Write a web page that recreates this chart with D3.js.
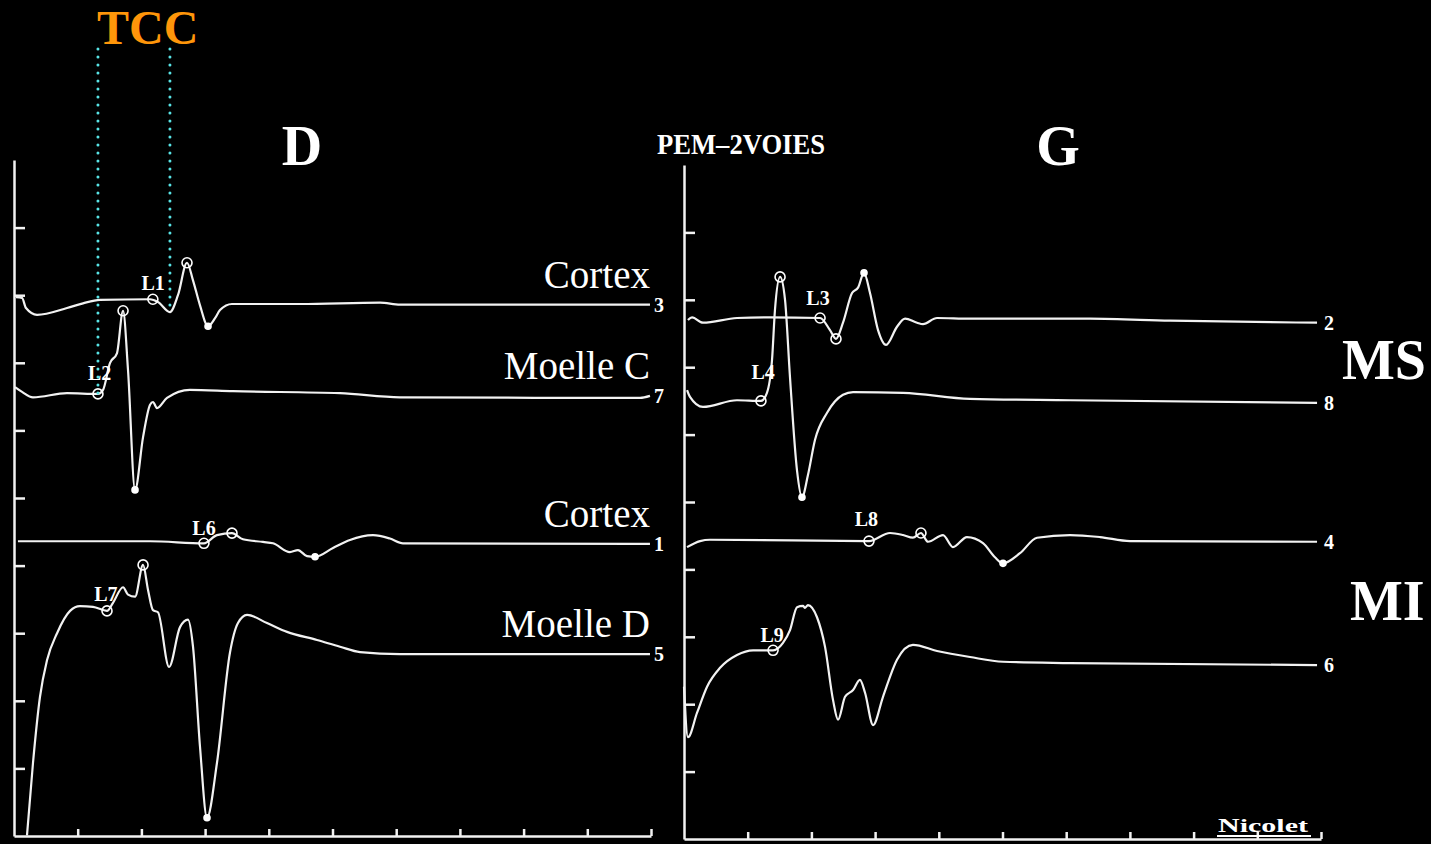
<!DOCTYPE html>
<html lang="fr">
<head>
<meta charset="utf-8">
<title>PEM - 2 voies</title>
<script src="https://cdn.jsdelivr.net/npm/d3@7"></script>
<style>
  body { margin: 0; background: #000; }
  svg { display: block; }
  .trace { fill: none; stroke: #f2f2f2; stroke-width: 2.2; stroke-linejoin: round; }
  .axis path, .axis line { stroke: #f2f2f2; stroke-width: 2.5; }
  .axis text { display: none; }
  .big { font-family: "Liberation Serif", "Times New Roman", serif; font-weight: bold; fill: #fff; }
  .site { font-family: "Liberation Serif", "Times New Roman", serif; fill: #fff; font-size: 39px; }
  .lat { font-family: "Liberation Serif", serif; font-weight: bold; fill: #fff; font-size: 20px; }
  .num { font-family: "Liberation Serif", serif; font-weight: bold; fill: #fff; font-size: 20px; }
</style>
</head>
<body>
<script>
// time in ms, amplitude in screen divisions (0 = bottom axis, 10 = top)
const timeTicks = [5, 10, 15, 20, 25, 30, 35, 40, 45, 50];
const divTicks = [1, 2, 3, 4, 5, 6, 7, 8, 9];

// ---- left side (D) ----
const ch3 = [[0.16,7.97],[0.63,7.96],[0.94,7.81],[1.81,7.71],[4.16,7.81],[5.42,7.88],[6.75,7.93],
  [10.68,7.94],[11.30,7.90],[12.24,7.75],[12.87,8.00],[13.58,8.48],[14.05,8.22],[14.60,7.85],
  [15.23,7.54],[15.78,7.66],[16.17,7.78],[17.11,7.87],[22.45,7.87],[28.73,7.89],[30.30,7.86],[49.92,7.86]];
const ch7 = [[0.08,6.64],[0.63,6.57],[1.49,6.49],[4.16,6.55],[6.59,6.54],[6.99,6.60],[7.54,7.00],
  [8.08,7.14],[8.56,7.77],[8.95,6.89],[9.50,5.12],[10.13,5.90],[10.68,6.38],[10.91,6.42],[11.22,6.33],
  [12.01,6.48],[13.81,6.60],[17.19,6.58],[25.59,6.55],[30.30,6.49],[49.14,6.48],[49.92,6.51]];
const ch1 = [[0.31,4.36],[10.68,4.36],[14.91,4.33],[15.93,4.45],[17.11,4.48],[17.97,4.39],[19.54,4.35],
  [20.33,4.33],[21.66,4.20],[22.29,4.23],[23.00,4.14],[23.63,4.13],[25.04,4.26],[26.37,4.38],
  [28.18,4.45],[29.51,4.40],[30.53,4.33],[49.92,4.32]];
const ch5 = [[1.02,0.01],[1.49,1.08],[2.04,2.06],[2.59,2.60],[3.38,3.00],[4.40,3.33],[5.18,3.40],
  [6.20,3.39],[7.30,3.33],[7.77,3.45],[8.56,3.68],[8.95,3.57],[9.50,3.54],[10.13,4.01],[10.52,3.64],
  [10.91,3.34],[11.30,3.31],[12.17,2.50],[13.03,3.09],[13.66,3.20],[14.05,2.80],[14.60,1.32],
  [15.15,0.27],[15.93,1.08],[16.95,2.71],[17.58,3.15],[18.29,3.27],[19.86,3.15],[21.43,3.02],
  [23.78,2.90],[25.59,2.80],[27.16,2.72],[30.30,2.69],[49.92,2.69]];

// ---- right side (G) ----
const ch2 = [[0.31,7.70],[0.63,7.74],[1.49,7.66],[4.16,7.73],[6.75,7.74],[10.68,7.73],[11.46,7.55],
  [11.93,7.42],[12.48,7.66],[13.19,8.10],[13.66,8.18],[14.13,8.40],[14.60,8.10],[15.23,7.55],
  [15.86,7.33],[16.72,7.60],[17.35,7.72],[18.29,7.66],[18.76,7.64],[19.86,7.73],[22.45,7.72],
  [31.87,7.72],[38.15,7.69],[49.69,7.66]];
const ch8 = [[0.24,6.66],[0.47,6.56],[1.49,6.41],[4.16,6.51],[6.04,6.50],[6.51,6.62],[6.91,7.11],
  [7.14,7.85],[7.54,8.34],[7.93,8.00],[8.32,6.85],[8.87,5.47],[9.26,5.07],[9.73,5.40],[10.28,5.92],
  [11.22,6.32],[12.48,6.59],[13.27,6.63],[17.19,6.62],[22.45,6.53],[30.30,6.51],[49.69,6.47]];
const ch4 = [[0.24,4.33],[1.26,4.42],[2.04,4.44],[14.52,4.42],[16.17,4.54],[17.19,4.51],[17.97,4.47],
  [18.60,4.54],[19.15,4.41],[20.33,4.51],[21.11,4.33],[22.21,4.48],[23.47,4.39],[24.41,4.18],
  [25.04,4.09],[26.37,4.24],[27.71,4.47],[30.30,4.51],[32.65,4.48],[35.01,4.42],[49.69,4.41]];
const ch6 = [[0.0,2.26],[0.31,1.51],[1.02,1.87],[1.81,2.26],[2.83,2.54],[4.16,2.73],[5.42,2.80],
  [6.99,2.80],[7.77,2.91],[8.32,3.10],[8.87,3.44],[9.34,3.46],[9.50,3.43],[9.73,3.47],[10.44,3.29],
  [11.07,2.85],[11.70,2.06],[12.09,1.77],[12.64,2.11],[13.27,2.21],[13.81,2.36],[14.21,2.17],
  [14.84,1.69],[15.62,2.11],[16.72,2.66],[17.97,2.88],[19.86,2.79],[22.45,2.70],[25.04,2.63],
  [30.30,2.61],[49.69,2.58]];

// markers: [ms, div, kind]  o = open circle, f = filled dot
const markersL = [[10.9,7.94,"o"],[13.58,8.48,"o"],[15.23,7.54,"f"],
  [6.59,6.54,"o"],[8.56,7.77,"o"],[9.50,5.12,"f"],
  [14.91,4.33,"o"],[17.11,4.48,"o"],[23.63,4.13,"f"],
  [7.30,3.33,"o"],[10.13,4.01,"o"],[15.15,0.27,"f"]];
const markersR = [[10.68,7.73,"o"],[11.93,7.42,"o"],[14.13,8.40,"f"],
  [6.04,6.50,"o"],[7.54,8.34,"o"],[9.26,5.07,"f"],
  [14.52,4.42,"o"],[18.60,4.54,"o"],[25.04,4.09,"f"],
  [6.99,2.80,"o"]];

// latency labels: [text, ms, div] (left edge / baseline)
const latL = [["L1",10.0,8.07],["L2",5.8,6.75],["L6",14.0,4.46],["L7",6.3,3.47]];
const latR = [["L3",9.6,7.92],["L4",5.3,6.83],["L8",13.4,4.64],["L9",6.0,2.92]];

const sitesL = ["Cortex", "Moelle C", "Cortex", "Moelle D"];
const chanL = ["3", "7", "1", "5"];
const chanR = ["2", "8", "4", "6"];

// TCC : L2 and L1 latencies (ms) and the trace levels they reach
const tccTimes = [6.59, 12.24];
const tccLevels = [6.54, 7.75];

const W = 1431, H = 844;
const svg = d3.select("body").append("svg").attr("width", W).attr("height", H);
svg.append("rect").attr("width", W).attr("height", H).attr("fill", "#000");

const xL = d3.scaleLinear().domain([0, 50]).range([14, 651]);
const yL = d3.scaleLinear().domain([0, 10]).range([836, 160]);
const xR = d3.scaleLinear().domain([0, 50]).range([684, 1321]);
const yR = d3.scaleLinear().domain([0, 10]).range([839, 165]);

function drawPanel(x, y, traces, markers, lats, chans) {
  const g = svg.append("g");
  g.append("g").attr("class", "axis")
    .attr("transform", `translate(0,${y(0)})`)
    .call(d3.axisBottom(x).tickValues(timeTicks).tickSize(-7).tickSizeOuter(0));
  g.append("g").attr("class", "axis")
    .attr("transform", `translate(${x(0)},0)`)
    .call(d3.axisRight(y).tickValues(divTicks).tickSize(11).tickSizeOuter(0));

  const line = d3.line().x(d => x(d[0])).y(d => y(d[1])).curve(d3.curveMonotoneX);
  traces.forEach((t, i) => {
    g.append("path").attr("class", "trace").attr("d", line(t));
    const last = t[t.length - 1];
    g.append("text").attr("class", "num")
      .attr("x", x(50) + 3).attr("y", y(last[1])).attr("dy", "0.36em")
      .text(chans[i]);
  });

  g.selectAll("circle.mk").data(markers).join("circle")
    .attr("class", "mk")
    .attr("cx", d => x(d[0])).attr("cy", d => y(d[1]))
    .attr("r", d => d[2] === "o" ? 5 : 3)
    .attr("fill", d => d[2] === "o" ? "none" : "#fff")
    .attr("stroke", "#fff").attr("stroke-width", 1.6);

  g.selectAll("text.lat").data(lats).join("text")
    .attr("class", "lat")
    .attr("x", d => x(d[1])).attr("y", d => y(d[2]))
    .text(d => d[0]);
  return g;
}

drawPanel(xL, yL, [ch3, ch7, ch1, ch5], markersL, latL, chanL);
drawPanel(xR, yR, [ch2, ch8, ch4, ch6], markersR, latR, chanR);

// site names above the left traces
[ch3, ch7, ch1, ch5].forEach((t, i) => {
  svg.append("text").attr("class", "site")
    .attr("x", xL(50) - 1).attr("y", yL(t[t.length - 1][1]) - 17)
    .attr("text-anchor", "end")
    .text(sitesL[i]);
});

// TCC dotted guides
tccTimes.forEach((t, i) => {
  svg.append("line")
    .attr("x1", xL(t)).attr("x2", xL(t))
    .attr("y1", 49).attr("y2", yL(tccLevels[i]))
    .attr("stroke", "#58e4e6").attr("stroke-width", 3)
    .attr("stroke-linecap", "round").attr("stroke-dasharray", "0 8");
});
svg.append("text").attr("class", "big")
  .attr("x", 97).attr("y", 44).attr("font-size", 48)
  .style("fill", "#ff960a")
  .text("TCC");

svg.append("text").attr("class", "big").attr("x", 302).attr("y", 165)
  .attr("text-anchor", "middle").attr("font-size", 56).text("D");
svg.append("text").attr("class", "big").attr("x", 1058).attr("y", 165)
  .attr("text-anchor", "middle").attr("font-size", 56).text("G");
svg.append("text").attr("class", "big").attr("x", 657).attr("y", 154)
  .attr("font-size", 30).attr("textLength", 168).attr("lengthAdjust", "spacingAndGlyphs")
  .text("PEM\u20132VOIES");
svg.append("text").attr("class", "big").attr("x", 1342).attr("y", 379)
  .attr("font-size", 56).text("MS");
svg.append("text").attr("class", "big").attr("x", 1350).attr("y", 620)
  .attr("font-size", 56).text("MI");

svg.append("text").attr("class", "big").attr("x", 1218).attr("y", 832)
  .attr("font-size", 18).attr("textLength", 90).attr("lengthAdjust", "spacingAndGlyphs")
  .text("Nicolet");
svg.append("line").attr("x1", 1217).attr("x2", 1311).attr("y1", 836).attr("y2", 836)
  .attr("stroke", "#fff").attr("stroke-width", 2);
</script>
</body>
</html>
